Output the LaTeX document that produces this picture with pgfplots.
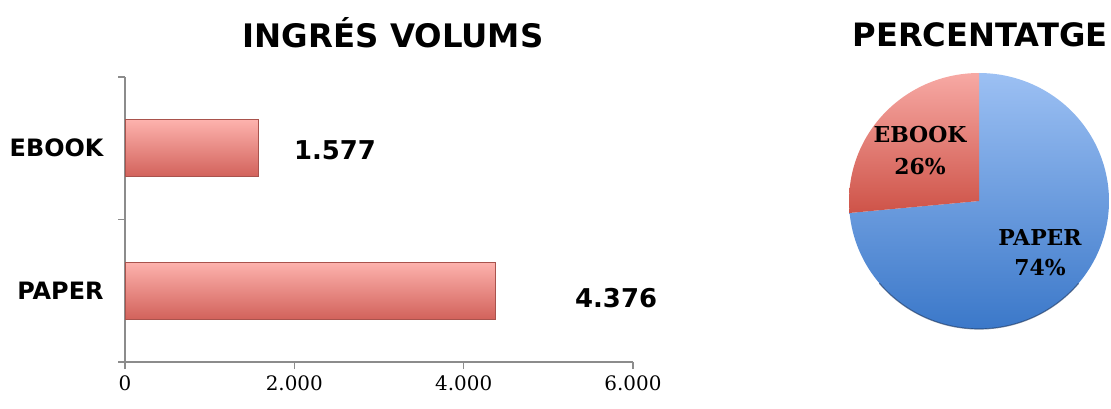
\documentclass[border=0pt]{standalone}
\usepackage{fontspec}
\usepackage{pgfplots}
\pgfplotsset{compat=1.18}
\setmainfont{DejaVu Serif}
\newfontfamily\vb{DejaVu Sans}
\newfontfamily\sr{DejaVu Serif}
\definecolor{axisgray}{HTML}{8C8C8C}
\definecolor{bartop}{HTML}{FDB2AD}
\definecolor{barmid}{HTML}{F7847D}
\definecolor{barbot}{HTML}{D2625B}
\definecolor{barline}{HTML}{A9534D}
\definecolor{bluetop}{HTML}{9CC0F3}
\definecolor{bluebot}{HTML}{3B78C9}
\definecolor{redtop}{HTML}{F7A9A4}
\definecolor{redbot}{HTML}{CE5348}
\begin{document}
\begin{tikzpicture}[x=1bp,y=1bp]
\useasboundingbox (0,0) rectangle (1111,408);
\node[font=\vb\bfseries\fontsize{32.5}{32.5}\selectfont] at (393,375) {INGRÉS VOLUMS};
\node[font=\vb\bfseries\fontsize{32.3}{32.3}\selectfont] at (980,373) {PERCENTATGE};
\begin{axis}[
  at={(125bp,46bp)}, anchor=south west,
  scale only axis, width=508bp, height=285bp,
  xmin=0, xmax=6000, ymin=0, ymax=2,
  axis x line*=bottom, axis y line*=left,
  axis line style={axisgray, line width=1.1pt},
  tick style={axisgray, line width=1.1pt},
  tick align=outside, major tick length=7bp,
  xtick={0,2000,4000,6000},
  xticklabels={0,{2.000},{4.000},{6.000}},
  xticklabel style={font=\sr\fontsize{20}{20}\selectfont, yshift=-3bp},
  ytick={0,1,2}, yticklabels={},
  extra y ticks={0.5,1.5}, extra y tick labels={PAPER,EBOOK},
  extra y tick style={major tick length=0pt,
    yticklabel style={font=\vb\bfseries\fontsize{24}{24}\selectfont, xshift=-18bp}},
  /pgf/number format/assume math mode=true,
  clip=false,
]
\addplot[xbar, bar width=57bp, bar shift=0pt, draw=barline, line width=0.8pt,
  top color=bartop, middle color=barmid, bottom color=barbot]
  coordinates {(4376,0.5)};
\addplot[xbar, bar width=57bp, bar shift=0pt, draw=barline, line width=0.8pt,
  top color=bartop, middle color=barmid, bottom color=barbot]
  coordinates {(1577,1.5)};
\node[font=\vb\bfseries\fontsize{26}{26}\selectfont] at (axis cs:2480,1.488) {1.577};
\node[font=\vb\bfseries\fontsize{26}{26}\selectfont] at (axis cs:5800,0.449) {4.376};
\end{axis}
\begin{axis}[
  at={(979bp,207bp)}, anchor=center,
  scale only axis, width=260bp, height=256bp,
  xmin=-1, xmax=1, ymin=-1, ymax=1, hide axis, clip=false,
]
% EBOOK 1577, PAPER 4376 -> angles from data
\pgfmathsetmacro{\ea}{90+360*(1577/(1577+4376))}
\addplot[draw=none, top color=bluetop, bottom color=bluebot, domain=\ea:450, samples=120]
  ({cos(x)},{sin(x)}) -- (0,0) -- cycle;
\addplot[draw=none, top color=redtop, bottom color=redbot, domain=90:\ea, samples=60]
  ({cos(x)},{sin(x)}) -- (0,0) -- cycle;
\addplot[draw={rgb,255:red,30;green,55;blue,95}, line width=1.2pt, opacity=0.6, domain=220:320, samples=60]
  ({cos(x)},{sin(x)});
\node[font=\sr\bfseries\fontsize{22}{22}\selectfont] at (axis cs:-0.454,0.516) {EBOOK};
\node[font=\sr\bfseries\fontsize{22}{22}\selectfont] at (axis cs:-0.454,0.266) {26\%};
\node[font=\sr\bfseries\fontsize{22}{22}\selectfont] at (axis cs:0.469,-0.289) {PAPER};
\node[font=\sr\bfseries\fontsize{22}{22}\selectfont] at (axis cs:0.469,-0.523) {74\%};
\end{axis}
\end{tikzpicture}
\end{document}
